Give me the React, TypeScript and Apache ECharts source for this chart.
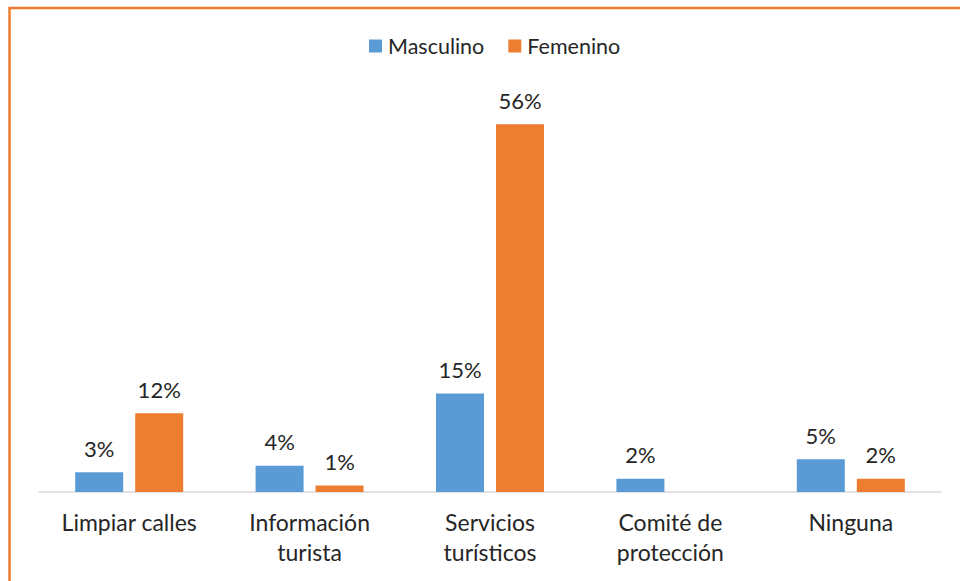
import React, { useEffect, useRef } from "react";
import * as echarts from "echarts";

const categories = [
  "Limpiar calles",
  "Información\nturista",
  "Servicios\nturísticos",
  "Comité de\nprotección",
  "Ninguna",
];
const seriesNames = ["Masculino", "Femenino"];
const masculino: (number | null)[] = [3, 4, 15, 2, 5];
const femenino: (number | null)[] = [12, 1, 56, null, 2];

const FONT = "Lato";
const TEXT = "#262626";

export default function App() {
  const ref = useRef<HTMLDivElement>(null);
  useEffect(() => {
    document.body.style.margin = "0";
    const chart = echarts.init(ref.current!, undefined, { renderer: "svg" });
    const label = {
      show: true,
      position: "top" as const,
      distance: 13,
      fontFamily: FONT,
      fontSize: 22,
      color: TEXT,
      formatter: (p: any) => (p.value == null ? "" : p.value + "%"),
    };
    chart.setOption({
      animation: false,
      backgroundColor: "#ffffff",
      textStyle: { fontFamily: FONT },
      legend: {
        top: 30,
        left: 364,
        itemWidth: 13,
        itemHeight: 13,
        itemGap: 24,
        icon: "rect",
        textStyle: { fontFamily: FONT, fontSize: 21.5, color: TEXT, padding: [0, 0, 0, 1] },
        data: seriesNames,
      },
      grid: { left: 39, right: 19, top: 98, bottom: 89 },
      xAxis: {
        type: "category",
        data: categories,
        axisLine: { lineStyle: { color: "#D9D9D9", width: 1.5 } },
        axisTick: { show: false },
        axisLabel: {
          fontFamily: FONT,
          fontSize: 23,
          color: TEXT,
          lineHeight: 30,
          margin: 15,
          interval: 0,
        },
      },
      yAxis: { type: "value", min: 0, max: 60, show: false, splitLine: { show: false } },
      series: [
        {
          name: seriesNames[0],
          type: "bar",
          data: masculino,
          barWidth: 48,
          barGap: "25%",
          itemStyle: { color: "#5B9BD5" },
          label,
        },
        {
          name: seriesNames[1],
          type: "bar",
          data: femenino,
          barWidth: 48,
          itemStyle: { color: "#ED7D31" },
          label,
        },
      ],
      graphic: [
        {
          type: "rect",
          shape: { x: 9.5, y: 8, width: 980, height: 620 },
          style: { fill: "none", stroke: "#ED7D31", lineWidth: 2.5 },
          silent: true,
        },
      ],
    });
    return () => chart.dispose();
  }, []);
  return (
    <div
      ref={ref}
      style={{ position: "fixed", left: 0, top: 0, width: 960, height: 581 }}
    />
  );
}
